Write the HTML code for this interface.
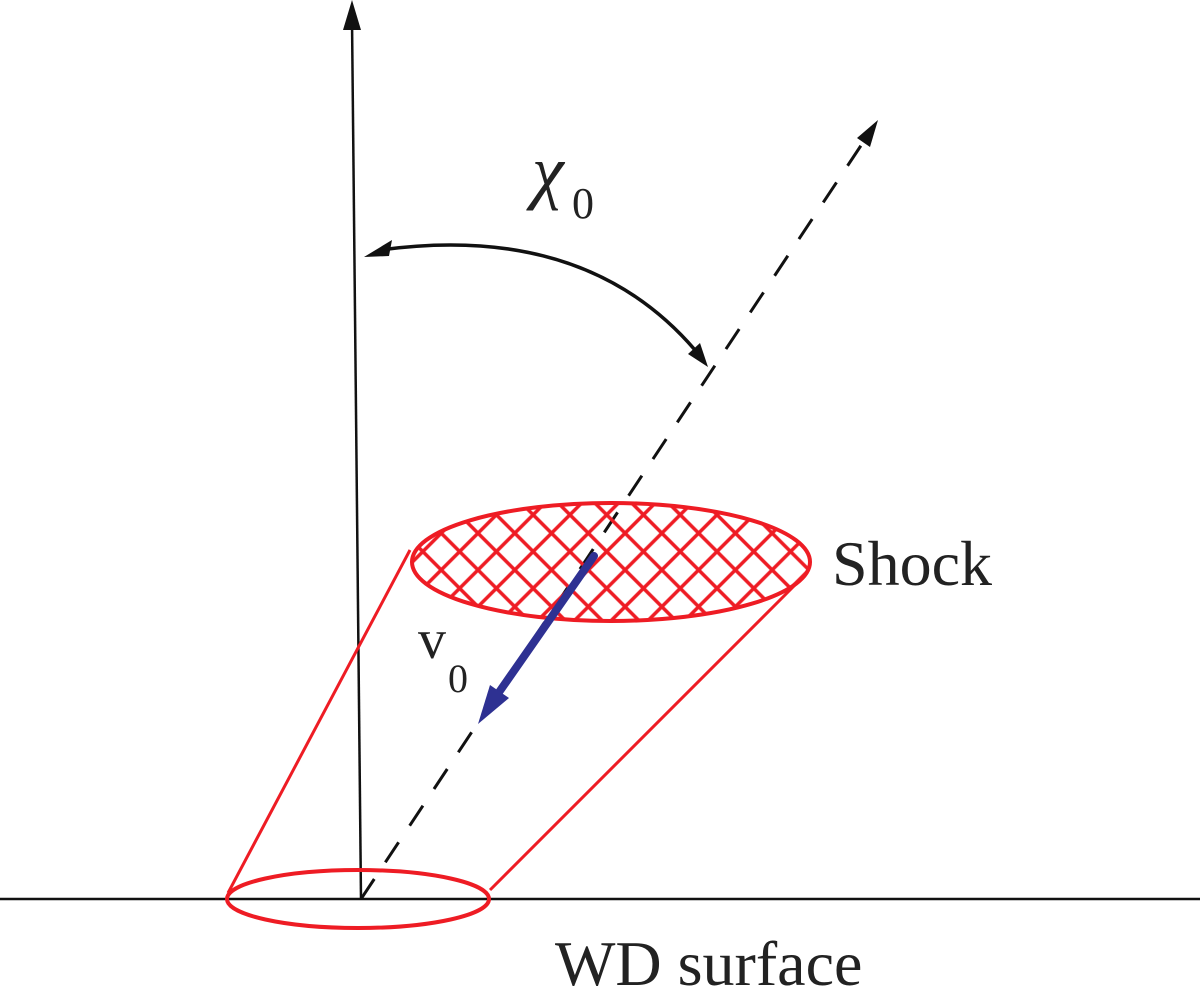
<!DOCTYPE html>
<html><head><style>body{margin:0;background:#fff}svg{display:block}text{font-family:"Liberation Serif","DejaVu Serif",serif;fill:#222}</style></head><body>
<svg width="1200" height="991" viewBox="0 0 1200 991" xmlns="http://www.w3.org/2000/svg">
<defs>
<clipPath id="c"><ellipse cx="611" cy="562" rx="199" ry="59"/></clipPath>
<pattern id="h" width="26" height="26" patternUnits="userSpaceOnUse" patternTransform="rotate(45)">
<line x1="13" y1="0" x2="13" y2="26" stroke="#ee1c24" stroke-width="3.5"/>
<line x1="0" y1="13" x2="26" y2="13" stroke="#ee1c24" stroke-width="3.5"/>
</pattern>
</defs>
<line x1="0" y1="899" x2="1200" y2="899" stroke="#111" stroke-width="2.5"/>
<line x1="361" y1="899" x2="352" y2="20" stroke="#111" stroke-width="2.5"/>
<polygon points="352,0 343,30 361,30" fill="#111"/>
<line x1="361" y1="899" x2="862" y2="144" stroke="#111" stroke-width="3" stroke-dasharray="24,20"/>
<polygon points="878,120 857,138 870,147" fill="#111"/>
<path d="M380,250 Q585,222 695,350" fill="none" stroke="#111" stroke-width="3.5"/>
<polygon points="364,257 392,240 389,256" fill="#111"/>
<polygon points="708,367 688,354 700,343" fill="#111"/>
<ellipse cx="611" cy="562" rx="199" ry="59" fill="url(#h)" clip-path="url(#c)"/>
<ellipse cx="611" cy="562" rx="199" ry="59" fill="none" stroke="#ee1c24" stroke-width="4"/>
<line x1="410" y1="550" x2="228" y2="893" stroke="#ee1c24" stroke-width="3"/>
<line x1="795" y1="585" x2="490" y2="890" stroke="#ee1c24" stroke-width="3"/>
<ellipse cx="358" cy="899" rx="131" ry="29" fill="none" stroke="#ee1c24" stroke-width="4"/>
<line x1="594" y1="556" x2="495" y2="698" stroke="#2e3192" stroke-width="8" stroke-linecap="round"/>
<polygon points="478,724 490,685 509,698" fill="#2e3192"/>
<text x="532" y="195" font-size="72" font-style="italic">χ</text>
<text x="572" y="218" font-size="44">0</text>
<text x="418" y="658" font-size="56">v</text>
<text x="448" y="692" font-size="40">0</text>
<text x="832" y="585" font-size="64">Shock</text>
<text x="555" y="985" font-size="64">WD surface</text>
</svg>
</body></html>
